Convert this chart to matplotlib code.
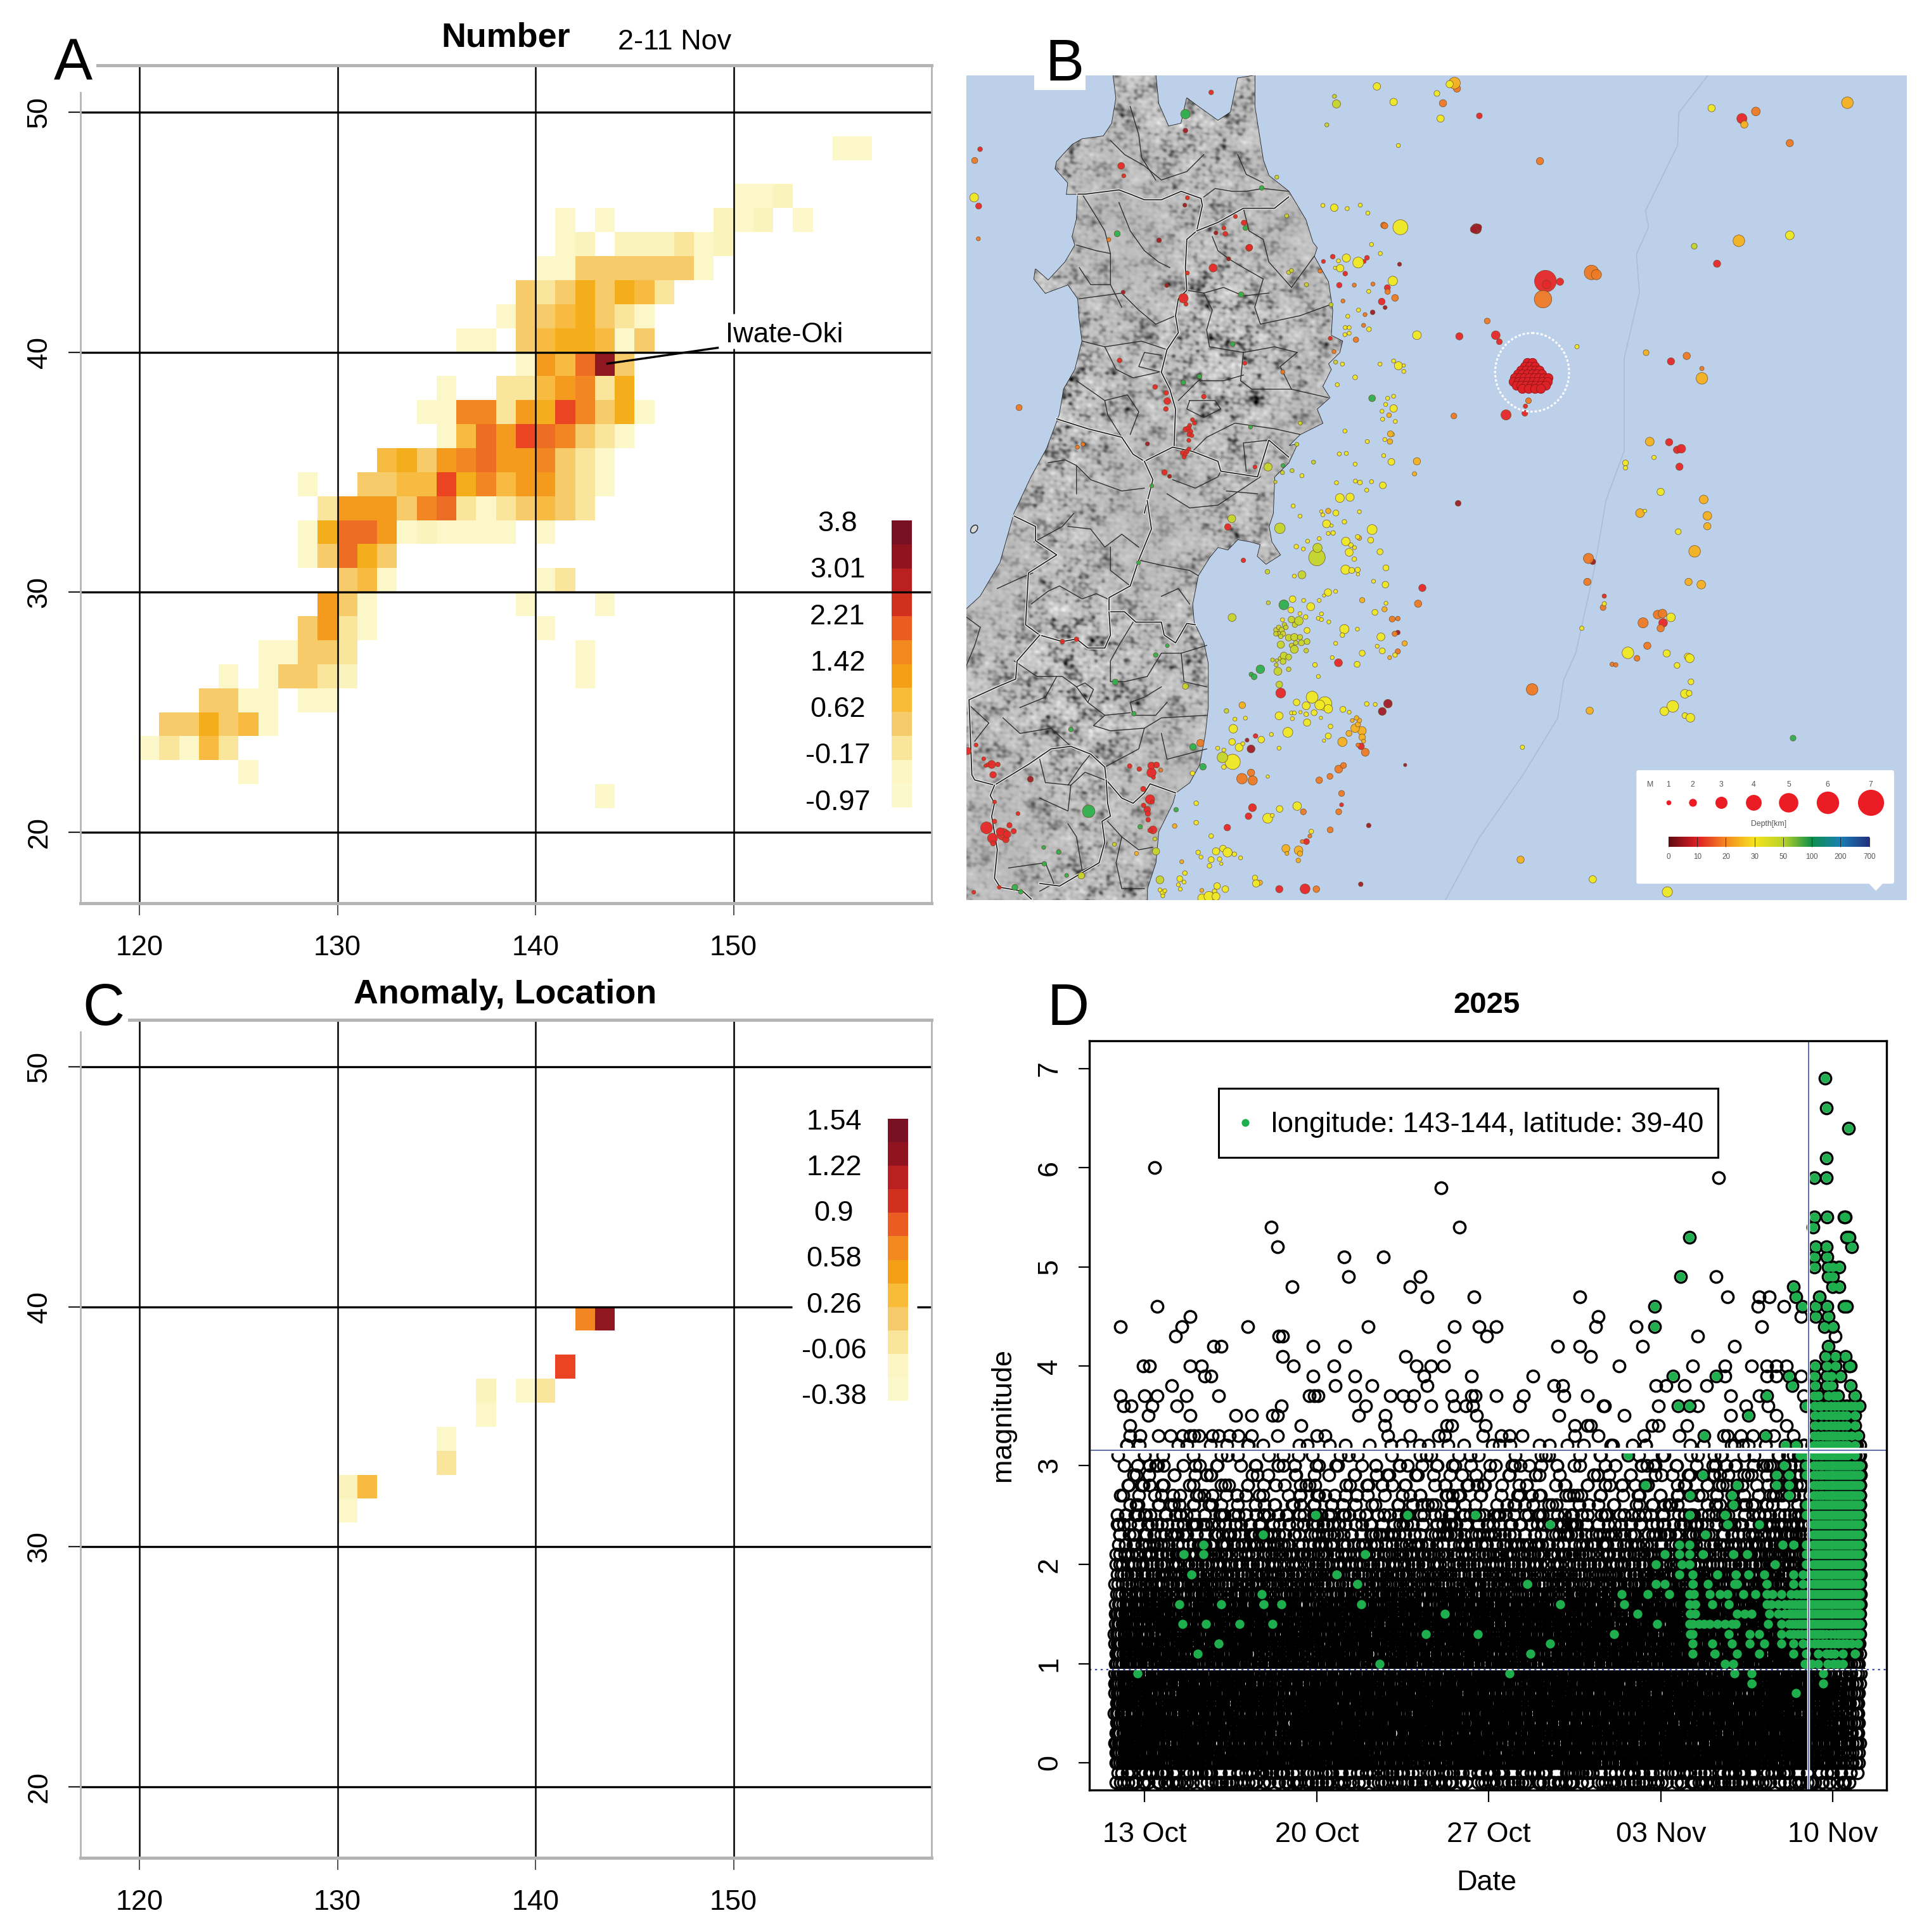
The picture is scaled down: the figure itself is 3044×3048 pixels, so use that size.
import numpy as np
import matplotlib
matplotlib.use('Agg')
import matplotlib.pyplot as plt
import matplotlib.patheffects as pe
from matplotlib.colors import ListedColormap, BoundaryNorm, LinearSegmentedColormap
from matplotlib.patches import Rectangle, Polygon, Ellipse, FancyBboxPatch

plt.rcParams['font.family'] = ['Liberation Sans', 'DejaVu Sans']

# --- panel A / C : grid cells, lat: (first lon, levels per 1 degree cell)
level_colors = ['#FBF7C8', '#FAF3BC', '#F9E59B', '#F7CB6A', '#F6BB40', '#F5AE1B',
                '#F49B1E', '#F18622', '#EE6D25', '#EA4423', '#8F1820']
number_rows = {
    48: (155, "11"), 46: (150, "112"), 45: (141, "1.1.....212.1"),
    44: (141, "12.222312"), 43: (140, "114444441"), 42: (139, "43464653"),
    41: (138, "14456431"), 40: (136, "11.4566514"), 39: (139, "1759b4"),
    38: (135, "1..3357836"), 37: (134, "1188376a8461"), 36: (135, "1597a98431"),
    35: (132, "564789778431"), 34: (128, "1..4455a68577431"),
    33: (129, "37774893134543"), 32: (128, "16997121111.1"), 31: (128, "14964"),
    30: (130, "451.......13"), 29: (129, "741.......1...1"),
    28: (128, "4731........1"), 27: (126, "11443...........1"),
    26: (124, "1.14432...........1"), 25: (123, "4411.11"), 24: (121, "446451"),
    23: (120, "13153"), 22: (125, "1"), 21: (143, "1"),
}
anomaly_rows = {
    39: (142, "8b"), 37: (141, "a"), 36: (137, "2.13"), 35: (137, "1"),
    34: (135, "1"), 33: (135, "3"), 32: (130, "25"), 31: (130, "1"),
}
bar_colors = ['#FBF8CC', '#FBF6C4', '#F9E59B', '#F7CB6A', '#F8BC38', '#F59F16',
              '#F28A20', '#EA5C22', '#D2301F', '#B9201F', '#8F141F', '#7A1024']
number_ticks = [3.8, 3.01, 2.21, 1.42, 0.62, -0.17, -0.97]
anomaly_ticks = [1.54, 1.22, 0.9, 0.58, 0.26, -0.06, -0.38]
lon_ticks = [120, 130, 140, 150]
lat_ticks = [20, 30, 40, 50]

# --- panel B : coast, read in the frame of the whole map
coast_north_w = [(530,20),(540,100),(525,190),(495,235),(420,245),(385,265),(330,325),(325,350),
    (370,400),(365,440),(405,440),(400,530),(385,590),(395,620),(360,680),(300,745),(255,705),
    (250,740),(290,790),(370,760),(405,810),(410,880),(420,960),(395,1060),(355,1130),(340,1220),
    (295,1340),(240,1440),(180,1568)]
coast_south_w = [(130,240),(60,370),(10,420),(10,1545)]
coast_south_e = [(650,1545),(650,1500),(680,1400),(690,1280),(740,1170),(750,1130),(800,1090),
    (835,1020),(855,900),(865,800),(865,630),(850,550),(815,470),(810,400),(830,290),(870,220),
    (900,180),(935,190),(970,150),(1020,160),(1050,170),(1040,215),(1070,245),(1120,210),(1090,160),
    (1080,100),(1095,50)]
coast_north_e = [(1100,1440),(1150,1390),(1180,1325),(1150,1330),(1190,1290),(1230,1270),(1270,1250),
    (1250,1200),(1295,1160),(1270,1120),(1300,1060),(1290,1040),(1330,1000),(1340,960),(1300,940),
    (1305,850),(1290,750),(1240,660),(1250,630),(1235,610),(1210,530),(1150,430),(1080,375),(1060,320),
    (1030,130),(1030,20),(970,30),(945,150),(900,180),(830,130),(790,100),(770,190),(725,200),(690,120),(680,20)]
trench = [(1228,22),(1180,90),(1178,150),(1125,270),(1130,300),(1110,350),(1115,420),(1090,540),(1090,710),
    (1060,800),(1040,930),(1010,1080),(990,1130),(980,1200),(925,1300),(850,1420),(795,1533)]

pref_north = [
    [(405,440),(430,440),(550,425),(590,440),(640,460),(700,460),(770,430),(840,455),(845,480),(825,570),
     (790,600),(785,700),(790,780),(760,810),(750,870),(760,930),(720,990),(700,1070),(730,1130),(750,1200),(745,1330)],
    [(825,570),(900,540),(990,490),(1100,490),(1150,450)],
    [(330,1235),(440,1270),(560,1300),(600,1360),(640,1385),(740,1335),(810,1350),(900,1385),(910,1420),(1040,1440),(1080,1310),(1150,1370)],
    [(640,1385),(670,1450),(640,1568)],
]
pref_south = [
    [(650,0),(665,110),(620,230),(590,330),(515,375),(515,430),(570,430),(610,470),(700,470),(710,520),(750,550),(790,475),(820,480)],
    [(180,60),(255,100),(255,155),(330,210),(230,280),(220,480),(270,520),(350,545),(400,535),(440,570),(500,570),(520,520),(515,430)],
    [(270,520),(190,620),(185,690),(120,720),(20,770),(30,1060),(40,1080),(110,1100),(230,1020),(310,960),(380,950),(450,980),(500,1030),(505,1080),(560,1150),(600,1170),(640,1130),(660,1095),(750,1130)],
    [(110,1100),(95,1140),(110,1170),(100,1220),(120,1350),(110,1460),(130,1495),(210,1510),(240,1540)],
    [(505,1080),(510,1170),(520,1220),(490,1240),(500,1320),(480,1400),(340,1490),(270,1480)],
]
town_north = [
    [(520,250),(570,300),(640,340),(700,390),(790,360),(850,300)],[(590,130),(620,230),(630,310),(680,390)],
    [(850,450),(890,420),(950,430),(1000,430),(1060,420),(1150,430)],[(970,300),(1000,370),(1060,400)],
    [(420,440),(470,520),(500,570),(520,650),(520,760),(560,840)],[(550,470),(590,570),(640,640),(690,680),(730,700)],
    [(400,620),(470,640),(520,650)],[(520,760),(450,760),(410,700)],[(410,810),(560,790),(620,850),(680,900),(750,870)],
    [(990,490),(1010,570),(1060,600),(1080,680),(1160,770),(1240,660)],[(880,590),(900,640),(940,670),(990,700),(1060,740)],
    [(1060,740),(1030,840),(1050,900),(1190,870),(1300,830)],[(790,780),(850,790),(920,770),(990,800),(1080,790)],
    [(850,790),(880,850),(860,920),(870,980),(990,1000),(1100,980),(1180,1000)],[(1180,1000),(1120,1050),(1160,1130),(1290,1160)],
    [(990,1000),(980,1100),(1020,1130),(1160,1130)],[(700,1070),(620,1050),(640,1000),(700,1010)],
    [(500,980),(540,1060),(600,1090),(690,1070)],[(420,960),(500,980),(630,960),(720,990)],[(500,1170),(580,1150),(620,1210),(590,1290)],
    [(400,1100),(500,1170),(510,1220),(560,1300)],[(760,1170),(830,1100),(920,1100),(990,1080)],
    [(800,1170),(890,1170),(910,1200),(850,1230),(790,1200),(800,1170)],[(880,1290),(960,1250),(1100,1270),(1190,1290)],
    [(1000,1420),(990,1320),(1080,1310)],[(810,1350),(860,1300),(880,1290)],[(400,1400),(450,1450),(560,1490),(640,1480)],
    [(300,1390),(360,1380),(400,1400),(400,1500)],[(740,1450),(820,1480),(900,1440),(910,1420)],
    [(720,1500),(800,1550),(900,1540),(1050,1440)],[(1040,1500),(930,1490)],
]
town_south = [
    [(10,450),(60,490),(40,560),(10,640)],[(120,340),(200,300),(245,280)],[(240,400),(300,350),(340,330),(420,380),(470,360),(510,380)],
    [(370,100),(450,110),(500,180),(560,130),(620,180)],[(250,160),(350,100),(390,50)],[(520,180),(520,270),(590,330)],
    [(620,230),(700,250),(800,270),(830,290)],[(700,370),(760,340),(800,400)],[(600,470),(550,560),(520,620),(520,700),(570,700),(650,680)],
    [(650,680),(700,590),(770,590),(860,560)],[(770,590),(780,700),(860,720)],[(700,720),(640,760),(590,780),(600,830),(680,830),(720,780)],
    [(330,680),(290,760),(200,800)],[(180,620),(260,680),(350,680),(400,720),(440,780),(460,730),(430,705),(400,720)],
    [(440,780),(500,830),(590,820)],[(500,830),(460,870),(520,890),(640,880),(700,840),(860,830)],[(640,880),(620,960),(500,1030)],
    [(700,900),(720,1000),(860,960)],[(270,1000),(290,1090),(380,1100),(370,1200),(270,1150)],[(370,1100),(420,1020),(450,980)],
    [(380,1100),(430,1050),(500,1080)],[(370,1250),(400,1300),(420,1430),(480,1400)],[(160,1420),(290,1400),(320,1480),(270,1510)],
    [(20,790),(90,860),(40,930)],[(140,840),(200,900),(310,880),(380,950)],[(510,1240),(560,1300),(620,1350),(670,1340)],
    [(560,1300),(540,1400),(560,1500),(640,1500)],
]

# quakes: (x, y, diameter) as read on the map
quake_colors = {'red': '#E8282A', 'dark': '#A01E2A', 'orange': '#EE7A25', 'amber': '#F6B21F',
                'yellow': '#F1EA22', 'lime': '#C5D62A', 'green': '#2FB04E'}
north_quakes = {
    'red': [(876,80,14),(59,281,14),(558,340,20),(567,375,12),(792,453,12),(54,482,18),(962,519,12),(992,541,16),(921,560,12),(926,580,14),
        (883,701,24),(792,719,12),(1010,630,20),(1012,628,18),(778,808,28),(787,829,12),(552,1028,14),(995,1038,12),(678,1122,14),(717,1143,14),
        (721,1172,20),(716,1200,14),(850,1156,14),(810,1238,12),(817,1250,12),(786,1272,16),(796,1268,16),(800,1258,12),(802,1280,16),(799,1290,14),
        (808,1294,12),(797,1311,12),(790,1350,14),(797,1342,12),(775,1355,14),(785,1360,12),(780,1370,12),(711,1424,16),(1031,1405,12),(1273,678,12),
        (1306,661,14),(1350,721,14),(1329,762,16),(1499,771,18),(1479,820,20),(1417,678,12),(1427,665,14),(1297,950,12)],
    'dark': [(785,215,14),(783,479,12),(692,603,14),(565,787,12),(719,763,12),(938,669,12),(893,577,12),(651,1323,12),(729,1438,12),(1491,841,12),(1542,688,12),(1447,858,14)],
    'orange': [(40,321,18),(53,598,12),(514,601,12),(1129,1069,12),(403,1335,12),(423,1325,12),(197,1195,18),(1486,550,18),(1490,552,18),(1261,712,12),
        (1382,762,12),(1342,818,12),(1420,866,12),(1415,904,12),(1388,955,16),(1310,997,12),(1500,785,16),(1526,807,20),(1448,758,12)],
    'yellow': [(1462,59,22),(1521,114,22),(1538,268,12),(1271,480,12),(1311,488,22),(1357,491,12),(1403,479,12),(1430,507,12),(1545,557,44),(1443,618,12),
        (1474,650,12),(1354,666,24),(1326,676,12),(1396,682,32),(1314,701,10),(1332,702,22),(1518,747,28),(1433,784,12),(1397,850,12),(1359,872,12),
        (1350,912,12),(1364,912,12),(1364,932,12),(1349,937,12),(1434,918,14),(1340,1041,12),(1473,1041,12),(1521,1030,12),(1538,1047,24),(1557,1046,10),
        (1557,1067,12),(1385,1088,14),(1322,1114,12),(1500,1162,12),(1521,1155,12),(1493,1184,12),(1521,1198,22),(1480,1208,12),(1482,1236,12),(1527,1244,12),
        (1349,1278,12),(1428,1315,12),(1329,1359,12),(1354,1357,12),(1486,1365,12),(1513,1387,20),(1385,1395,12),(1197,1436,12),(1319,1461,12),(1386,1455,12),
        (1402,1460,14),(1443,1457,12),(1483,1470,20),(1426,1487,12),(1331,1515,26),(1367,1512,24),(1166,1543,12),(1517,1290,12),(1490,1308,12),(38,452,26)],
    'amber': [(1510,1288,18),(1505,1222,14),(1508,1315,16)],
    'lime': [(1312,94,12),(1319,121,24),(1108,380,12),(1143,517,12),(1285,195,12),(1213,760,12),(1300,831,12),(1316,1034,12),(1191,1250,12),(1179,1325,12),
        (1162,1418,12),(1238,1388,12),(1077,1405,24),(1128,1425,12),(1103,1458,10),(1150,717,12),(1160,710,12)],
    'green': [(785,157,28),(1055,418,14),(997,560,14),(544,580,18),(982,795,16),(952,970,14),(835,1085,14),(778,1106,14),(1015,1264,12),(1445,1162,20),(1130,1400,12),(666,1472,12)],
}
south_quakes = {
    'red': [(990,231,14),(350,545,14),(400,536,14),(1122,744,30),(1033,910,14),(1022,1187,24),(1008,1220,20),(933,1264,20),(1213,1318,18),(1208,1501,30),
        (1117,1502,22),(1326,627,24),(1406,950,20),(1337,1176,12),(665,1052,28),(665,1025,22),(683,1022,18),(672,1070,12),(622,1038,14),(588,1026,14),
        (636,1115,16),(653,1234,14),(660,1155,28),(668,1165,12),(637,1178,14),(650,1195,20),(652,1210,16),(670,1273,24),(660,1275,14),(82,1265,36),
        (110,1240,14),(100,1020,24),(122,1020,14),(85,1022,12),(105,1060,20),(72,998,12),(78,1025,10),(163,1255,16),(178,1278,16),(193,1210,12),
        (140,1290,36),(130,1280,24),(150,1310,20),(103,1305,30),(105,1325,16),(155,1290,22),(45,945,12),(15,968,22),(110,1165,12),(127,1495,12),(37,1514,12),(935,102,20)],
    'dark': [(237,1077,18),(1003,926,12),(1017,960,24),(1501,785,26),(1481,815,24),(1405,1483,14),(1433,1256,14),(1536,510,14),(1562,1022,10)],
    'orange': [(838,937,22),(698,1042,12),(985,1075,32),(1017,1052,22),(1023,1082,28),(1258,1081,20),(1296,1066,18),(1327,1038,24),(1344,1024,18),(1337,1132,18),
        (1327,1203,18),(1297,1273,18),(1202,1203,18),(1225,1297,12),(1198,1318,12),(1248,1502,20),(1421,973,24),(1395,945,12),(1516,458,18),(1525,515,16),(1536,583,16),(1536,456,14)],
    'amber': [(612,1364,12),(747,1258,14),(772,1396,12),(1140,1345,24),(1185,1352,26),(1190,1365,16),(1184,1391,14),(1144,1364,12),(1048,1477,16),(1409,890,26),
        (1385,880,26),(1395,865,16),(1410,915,20),(1400,850,14),(1375,850,12),(1390,840,14),(1415,930,12),(1340,933,28),(1363,900,18),(1410,385,16),(1489,420,16),
        (1507,607,12),(1560,552,16),(1290,40,16),(1400,145,14),(986,791,20),(843,1507,12)],
    'yellow': [(1190,60,12),(1400,43,12),(1317,48,18),(1271,55,12),(1265,42,10),(1284,90,24),(1302,97,10),(1347,82,14),(1217,157,12),(1258,147,12),(1445,112,30),
        (1352,158,26),(1370,172,14),(1383,182,12),(1364,200,24),(1394,140,14),(1440,153,18),(1473,198,18),(1382,226,14),(1177,178,14),(1202,187,12),(1290,127,12),
        (1307,125,14),(1351,267,28),(1373,270,18),(1394,268,16),(1395,285,10),(1494,260,18),(1492,325,20),(1450,312,12),(1170,292,12),(1289,355,22),(1316,351,12),
        (1275,367,10),(1258,386,12),(1164,381,20),(1203,386,12),(1228,410,24),(1158,423,18),(1190,437,12),(1266,438,12),(1210,450,14),(1128,461,12),(1255,455,12),
        (1266,460,12),(1292,469,12),(1455,432,18),(1494,397,12),(1347,497,28),(1340,520,14),(1393,497,12),(1476,527,24),(1215,502,18),(1316,552,12),(1410,590,18),
        (1463,563,12),(1481,581,18),(1392,633,18),(1243,635,14),(1304,607,12),(1255,680,12),(1526,597,14),(1178,780,20),(1233,760,36),(1212,793,24),(1240,820,18),
        (1278,785,42),(1290,805,26),(1260,790,30),(1116,832,24),(1160,821,12),(1170,821,12),(1163,843,12),(1192,818,10),(1212,826,14),(1264,840,10),(1298,873,14),
        (1215,858,22),(1342,807,18),(1364,818,12),(1426,786,14),(1456,788,12),(954,882,26),(960,845,12),(997,841,12),(1147,896,30),(1089,904,12),(1053,924,20),
        (950,933,20),(975,954,24),(988,940,12),(1116,957,12),(899,957,12),(921,964,12),(1275,928,10),(1290,910,18),(952,1010,46),(921,1030,14),(810,1054,14),
        (823,1170,14),(1118,1192,20),(1180,1181,26),(1076,1228,30),(1092,1217,12),(823,1245,14),(876,1297,14),(830,1360,14),(893,1356,22),(918,1345,20),(934,1360,28),
        (958,1367,14),(840,1378,12),(876,1388,18),(906,1386,14),(980,1381,12),(870,1412,14),(912,1404,10),(1230,1279,14),(783,1440,14),(765,1462,18),(780,1475,12),
        (760,1485,12),(767,1502,12),(1031,1458,16),(1035,1480,22),(926,1502,20),(897,1490,20),(888,1510,14),(844,1537,26),(868,1530,30),(893,1530,24),(705,1515,16),
        (695,1505,12),(712,1508,12),(705,1528,12),(1076,1067,10)],
    'lime': [(1105,500,14),(1115,490,14),(1125,500,16),(1115,515,14),(1130,515,16),(1105,515,14),(1135,480,14),(1122,525,14),(1140,490,14),(1160,460,20),(1172,480,16),
        (1150,530,20),(1170,528,22),(1190,528,16),(1215,545,18),(1195,550,18),(1122,557,22),(1160,560,14),(1175,550,14),(1170,575,24),(1212,580,14),(1120,610,12),
        (1133,600,22),(1150,605,18),(1130,622,18),(1108,618,10),(1093,616,12),(1112,660,24),(1106,635,12),(1150,652,14),(1186,465,26),(1119,107,32),(1250,220,50),
        (1252,183,28),(1197,287,24),(950,452,24),(1075,275,14),(949,70,24),(916,993,32),(1078,395,12),(1117,711,20),(930,813,14),(681,1356,22),(677,1308,12),(785,718,18),
        (534,1329,12),(417,1450,20),(695,1466,24)],
    'green': [(619,240,12),(721,561,12),(680,597,14),(537,701,18),(603,824,14),(380,885,14),(1133,403,30),(1050,652,26),(1018,672,14),(1028,681,18),(812,952,20),
        (847,1029,20),(443,1201,38),(625,1261,14),(752,1195,14),(284,1341,12),(337,1359,14),(286,1404,14),(365,1449,12),(182,1495,18),(203,1512,14)],
}
east_quakes = {
    'red': [(1284,101,14),(960,399,30),(962,405,12),(984,400,10),(818,500,10),(878,498,12),(884,510,8),(1167,546,10),(895,644,14),(926,641,8),(927,628,6),
        (1164,694,10),(1177,708,10),(1184,706,12),(1057,976,6),(757,961,10),(1154,1025,12),(1243,367,10),(851,96,8),(1181,739,10)],
    'dark': [(846,303,14),(842,304,10),(850,300,8),(1038,913,8),(816,806,8)],
    'orange': [(1307,88,12),(1363,146,10),(951,179,10),(956,432,24),(1036,383,20),(1044,387,14),(864,472,8),(1193,536,10),(1218,559,6),(809,646,8),(932,618,8),(1031,907,14),
        (1029,950,10),(1055,997,8),(750,990,10),(1145,1010,12),(1153,1008,12),(1150,1035,10),(1121,1025,14),(1128,1067,10),(1111,1090,8),(1070,1101,6),(1076,1102,6),(938,1147,16),
        (791,73,10),(814,46,10)],
    'amber': [(810,36,16),(1288,112,10),(1458,72,16),(1279,325,16),(1126,530,8),(1218,577,16),(1132,693,12),(748,729,10),(744,752,6),(1221,799,12),(1116,824,12),(1227,829,12),
        (1227,848,10),(1206,894,16),(1196,950,10),(1217,955,12),(919,1459,10),(1033,1186,10)],
    'yellow': [(802,38,10),(781,55,8),(787,101,10),(1234,82,10),(1363,315,12),(748,498,12),(1012,519,6),(1139,722,6),(1092,732,8),(1092,741,6),(1150,785,10),(1124,820,5),
        (1179,858,8),(1057,990,6),(1167,1015,12),(1020,1035,6),(1096,1080,16),(1160,1081,10),(1177,1103,8),(1195,1087,10),(1198,1090,12),(1200,1133,8),(1190,1155,12),(1197,1154,8),
        (1170,1178,16),(1156,1187,12),(1190,1195,8),(1199,1199,12),(922,1253,6),(1038,1495,10),(1161,1518,14)],
    'lime': [(1205,334,8)],
    'green': [(1368,1236,8)],
}
main_cluster = [(930,548),(938,548),(926,555),(934,555),(942,555),(920,562),(928,562),(936,562),(944,562),(950,562),
    (914,569),(922,569),(930,569),(938,569),(946,569),(954,569),(909,576),(917,576),(925,576),(933,576),(941,576),(949,576),(957,576),(964,576),
    (907,583),(915,583),(923,583),(931,583),(939,583),(947,583),(955,583),(963,583),(912,590),(920,590),(928,590),(936,590),(944,590),(952,590),(960,590),
    (922,596),(932,596),(942,596),(952,596)]
legend_mag = ['1', '2', '3', '4', '5', '6', '7']
legend_mag_x = [1163, 1203, 1250, 1303, 1361, 1425, 1496]
legend_mag_d = [8, 13, 20, 26, 32, 37, 43]
depth_labels = ['0', '10', '20', '30', '50', '100', '200', '700']
depth_colors = ['#5E0A12', '#E01F25', '#F58A22', '#F6E41F', '#BBD32A', '#0E8F4C', '#1A7FB5', '#22307F']

# --- panel D
# x = day counted from 1 Oct (1 Nov = 32). Dense rows: events per bin of about a day, in base 36
dense_mag = [-0.2, -0.1, 0.0, 0.1, 0.2, 0.3, 0.4, 0.5, 0.6, 0.7, 0.8, 0.9, 1.0, 1.1, 1.2, 1.3, 1.4, 1.5, 1.6,
             1.7, 1.8, 1.9, 2.0, 2.1, 2.2, 2.3, 2.4, 2.5, 2.6, 2.7, 2.8, 2.9, 3.0, 3.1, 3.2]
dense_counts = [
    "6565765676 5676567565 67656765654", "5656567565 6756565657 56565656545",
    "bcbcbccbcb cbbcbcbcbc bbcbcbccbc8", "cbcbccbcbc bccbcbbcbc bcbcbccbcb8",
    "ccbcbcbcbc cbcbccbcbc bcbcbcbccb9", "bcccbcbccb cbcbcbcbcc bcbccbcbcb8",
    "cbcbcccbcb cbccbcbcbc cbcbcbcccb9", "bcbcbcbccc bcbcbccbcb cbccbcbcbc8",
    "cbccbcbcbc cbcbcbcbcc bcbcbccbcb9", "ccbcbccbcb cbccbcbcbc bcbcbcbccc9",
    "bcbcbcbcbc cbcbccbcbc cbcbccbcbc9", "cbcbccbcbc bcbcbcbcbc cbcbcbccbc8",
    "bbabbababb abbabbabab babbabbabc9", "abbabbabab babbababba bbabbabbcc9",
    "bababbabab bababbabab ababbabbcca", "abababbaba babababbab abbabbabcca",
    "bababababb abababbaba bababbabcca", "abababbaba babbababab abbababccca",
    "9a9aa9a9aa 9a9a9a9aa9 a9a9a9acccb", "8989898989 8989898989 898989899cc",
    "7878787877 8787878787 878788899cc", "7787878787 7878778787 878788889cc",
    "6767676676 7676767667 676767788cc", "6676767676 6767676767 676767787cc",
    "5656566565 6565656656 565656677cc", "5565656565 5656565565 656565667cc",
    "4545454454 5454545445 454545566cc", "4454545454 4545454545 454454556cc",
    "3233323323 3233323232 323333445cc", "2323232332 3232323323 232323344cb",
    "2322322322 2323232232 232323344cb", "2122221222 1222122212 222322334bb",
    "2322232322 3222323222 323233344cb", "1211211212 1121211211 212122233bb",
    "2112121121 1212112121 212112223a9",
]
black_days = {
    6.0: [13.4], 5.9: [36.35], 5.8: [25.05], 5.4: [18.15, 25.8], 5.2: [18.4], 5.1: [21.1, 22.7],
    4.9: [21.3, 24.2, 36.25], 4.8: [19, 23.8], 4.7: [24.5, 26.4, 30.7, 36.7, 38, 38.4],
    4.6: [13.5, 37.95, 39], 4.5: [14.85, 31.45, 39.7],
    4.4: [12, 14.5, 17.2, 22.1, 25.6, 26.6, 27.3, 31.35, 33, 38.1], 4.3: [14.25, 18.45, 18.6, 26.9, 35.5, 41.1],
    4.2: [15.8, 16.1, 19.85, 21.15, 25.15, 29.8, 30.7, 33.25, 37], 4.1: [18.6, 23.6, 31.15],
    4.0: [12.95, 13.2, 14.85, 15.3, 19.05, 20.7, 24.05, 24.65, 25.15, 32.3, 35.3, 36.6, 37.7, 38.3, 38.7, 39.1],
    3.9: [15.45, 15.7, 19.85, 21.55, 24.35, 26.3, 28.8, 36.6, 38.3, 38.7, 39.7],
    3.8: [14.1, 20.75, 22.25, 24.5, 29.65, 30, 33.8, 34.2, 34.95, 35.85],
    3.7: [12, 13, 13.5, 14.7, 16, 19.7, 19.9, 20.05, 21.55, 23, 23.5, 23.95, 25.5, 26.3, 26.45, 27.3, 28.4, 30.05, 31, 36.85, 38, 39.8],
    3.6: [12.15, 12.45, 13.3, 14.3, 18.55, 22, 23.8, 24.65, 25.6, 26.05, 26.35, 28.25, 31.65, 31.7, 33.9, 35.5, 37.45, 38.35],
    3.5: [13.15, 14.85, 16.7, 17.35, 18.2, 18.4, 21.7, 22.8, 26.5, 29.85, 32.5, 36.85, 38.7],
    3.4: [12.4, 19.35, 22.75, 25.3, 25.5, 26.85, 30.5, 31, 31.15, 33.65, 33.9, 35.05, 39.1],
    3.3: [12.4, 12.8, 13.55, 14.05, 14.55, 14.85, 15, 15.2, 15.75, 16, 16.45, 16.8, 17.35, 18.4, 20, 20.35, 22.9, 23.8, 24.95, 25.2,
          26.75, 27.5, 27.85, 28.35, 30.5, 31.45, 33.3, 34.75, 36.55, 36.7, 37.25, 37.75, 38.6, 39.4],
}
green_days = {
    6.9: [40.67], 6.6: [40.72], 6.4: [41.64], 6.1: [40.72], 5.9: [40.25, 40.73], 5.5: [40.25, 40.76, 41.45, 41.5], 5.4: [40.2],
    5.3: [35.15, 41.55, 41.65], 5.2: [40.3, 40.72, 41.75], 5.1: [40.25, 40.76], 5.0: [40.25, 40.8, 41, 41.25], 4.9: [34.8, 40.8, 41],
    4.8: [39.4, 41, 41.25], 4.7: [39.5, 40.45], 4.6: [33.75, 39.75, 40.3, 40.75, 41.45, 41.55], 4.5: [40.3, 40.8], 4.4: [33.75, 40.65, 41],
    4.2: [40.8], 4.1: [40.7, 41.1, 41.5], 4.0: [40.27, 40.75, 41.1, 41.65, 41.7], 3.9: [34.5, 36.25, 39.2, 40.25, 40.75, 40.95, 41.3],
    3.8: [39.35, 40.27, 40.75, 40.95, 41.7], 3.7: [38.3, 40.25, 40.4, 40.8, 41.05, 41.2, 41.9],
    3.6: [34.7, 35.15, 39.9, 40.25, 40.45], 3.5: [37.55], 3.3: [35.75, 38.25], 3.2: [39.05, 39.5], 3.1: [32.65, 39.65], 3.0: [39], 2.9: [35.7, 38.7, 39.2],
    2.8: [33.35, 37.1, 38.7, 39.2], 2.7: [35.2, 36.9, 39.2], 2.6: [36.95], 2.5: [19.95, 23.7, 26.45, 35.15, 36.6], 2.4: [29.5, 36.7, 38],
    2.3: [17.8, 35.8], 2.2: [15.4, 34.75, 35.15, 38.95, 39.4], 2.1: [14.6, 15.4, 21.95, 34.15, 34.75, 35.15, 35.7, 36.95, 37.5],
    2.0: [33.8, 34.85, 35.15, 38.65], 1.9: [14.9, 20.8, 34.75, 35.3, 36.3, 37.05, 37.55, 38.2],
    1.8: [21.65, 28.55, 33.8, 34.15, 35.3, 35.9, 37, 37.1, 38.3],
    1.7: [17.75, 32.4, 33.45, 34.35, 35.15, 35.35, 36, 36.4, 36.7, 37.35, 37.85, 38.3, 38.55],
    1.6: [14.4, 16.1, 17.85, 18.55, 21.8, 29.9, 32.5, 35.15, 35.4, 36.1, 36.75, 38.3, 38.5], 1.5: [25.2, 33.05, 35.2, 35.4, 37.1, 37.4, 37.7, 38.4],
    1.4: [14.55, 15.5, 16.85, 18.2, 33.85, 35.15, 35.3, 35.55, 35.75, 36, 36.3, 36.6, 36.9, 37.05, 38.35], 1.3: [24.45, 26.55, 32.1, 35.2, 35.3, 36.75, 37.6, 38],
    1.2: [16, 29.5, 35.3, 36.1, 36.9, 37.6, 38.2], 1.1: [15.15, 28.7, 35.3, 36.2, 37.1, 38], 1.0: [22.55, 36.6, 36.95, 39.85, 40.15, 41.2],
    0.9: [12.7, 27.85, 37, 37.7, 40.6], 0.8: [37.7, 40.6], 0.7: [39.5],
}
# main shock swarm: events per half day from 38.65
swarm_mag = [3.6, 3.5, 3.4, 3.3, 3.2, 3.1, 3.0, 2.9, 2.8, 2.7, 2.6, 2.5, 2.4, 2.3, 2.2, 2.1, 2.0, 1.9, 1.8, 1.7, 1.6, 1.5, 1.4, 1.3, 1.2, 1.1, 1.0]
swarm_counts = ["0002333", "0002331", "0002331", "0003532", "0004551", "0014551", "0014554", "0014555", "0004555", "0004555",
                "0015555", "0015555", "0005555", "0005555", "0015555", "0015555", "0015555", "0125555", "0125555", "1245555",
                "2455555", "2555555", "1455555", "1335355", "1123332", "0111311", "0011210"]
date_ticks = [13, 20, 27, 34, 41]
date_labels = ['13 Oct', '20 Oct', '27 Oct', '03 Nov', '10 Nov']
mag_ticks = [0, 1, 2, 3, 4, 5, 6, 7]
line_mag = 3.15
line_mc = 0.94
line_day = 40.0

W, H = 3044, 3048
FS = 16.2
fig = plt.figure(figsize=(W / 200, H / 200), dpi=200)


def box(l, t, r, b):
    return [l / W, 1 - b / H, (r - l) / W, (b - t) / H]


def ftext(x, y, s, **kw):
    kw.setdefault('ha', 'center')
    kw.setdefault('va', 'center')
    kw.setdefault('fontsize', FS)
    return fig.text(x / W, 1 - y / H, s, **kw)


def north(p):
    return (p[0] * 0.4665, 11.6 + p[1] * 0.518)


def south(p):
    return (p[0] * 0.4665, 801 + p[1] * 0.474)


def rows_to_grid(rows):
    grid = np.full((32, 38), np.nan)
    for lat, (lon0, cells) in rows.items():
        for i, c in enumerate(cells):
            if c != '.':
                grid[lat - 20, lon0 - 120 + i] = int(c, 16) - 1
    return grid


def grid_panel(rows, top, left_top_lat, top_from_lon, ticks, bar_box, bar_lim, label_pad):
    ymin, ymax = (17.04, 51.95)
    a = fig.add_axes(box(127, top, 1470, top + 1322))
    a.set_xlim(117.02, 160)
    a.set_ylim(ymin, ymax)
    cmap = ListedColormap(level_colors)
    norm = BoundaryNorm(np.arange(len(level_colors) + 1) - 0.5, len(level_colors))
    a.pcolormesh(np.arange(120, 159), np.arange(20, 53), rows_to_grid(rows), cmap=cmap, norm=norm, zorder=1)
    for k, sp in a.spines.items():
        sp.set_color('#B4B4B4')
        sp.set_linewidth(1.8 if k in ('top', 'bottom') else 1.0)
    a.spines['left'].set_bounds(ymin, left_top_lat)
    a.spines['top'].set_bounds(top_from_lon, 160)
    a.set_xticks(lon_ticks)
    a.set_yticks(lat_ticks)
    a.tick_params(axis='x', length=7, width=0.6, color='#333333', labelsize=FS, pad=11)
    a.tick_params(axis='y', length=7, width=0.8, color='#222222', labelsize=FS, pad=9)
    for t in a.get_yticklabels():
        t.set_rotation(90)
        t.set_va('center')
    # bar under the grid lines
    c = a.inset_axes(bar_box, transform=fig.transFigure, zorder=1.5)
    edges = np.linspace(bar_lim[0], bar_lim[1], 13)
    c.pcolormesh([0, 1], edges, np.arange(12).reshape(-1, 1), cmap=ListedColormap(bar_colors))
    c.set_ylim(bar_lim)
    c.set_xticks([])
    c.set_yticks(ticks)
    c.set_yticklabels([str(v) for v in ticks], ha='center', fontsize=FS)
    c.tick_params(axis='y', length=0, pad=label_pad)
    for sp in c.spines.values():
        sp.set_visible(False)
    c.patch.set_alpha(0)
    return a


# --- A
ax_a = grid_panel(number_rows, 103, 50.82, 117.9, number_ticks, box(1407, 821, 1439, 1274), (-1.10, 3.81), 30.6)
ax_a.vlines([120, 130, 140], 17.04, 51.95, color='black', lw=0.9, zorder=2)
ax_a.vlines(150, 17.04, 40.15, color='black', lw=0.9, zorder=2)
ax_a.vlines(150, 41.6, 51.95, color='black', lw=0.9, zorder=2)
ax_a.hlines(lat_ticks, 117.02, 160, color='black', lw=1.2, zorder=2)
ax_a.plot([143.63, 149.2], [39.52, 40.18], color='black', lw=1.2, zorder=3)
ax_a.text(152.56, 40.72, 'Iwate-Oki', ha='center', va='center', fontsize=FS - 0.4, zorder=3)
ftext(798, 59, 'Number', fontweight='bold', fontsize=19.4)
ftext(1065, 66, '2-11 Nov')
ftext(115, 103, 'A', fontsize=33)

# --- C
ax_c = grid_panel(anomaly_rows, 1609, 51.45, 119.5, anomaly_ticks, box(1401, 1765, 1433, 2210), (-0.429, 1.544), 30.6)
ax_c.vlines(lon_ticks, 17.04, 51.95, color='black', lw=0.9, zorder=2)
ax_c.hlines([20, 30, 50], 117.02, 160, color='black', lw=1.2, zorder=2)
ax_c.hlines(40, 117.02, 152.95, color='black', lw=1.2, zorder=2)
ax_c.hlines(40, 159.26, 160, color='black', lw=1.2, zorder=2)
ftext(797, 1569, 'Anomaly, Location', fontweight='bold', fontsize=19.4)
ftext(163, 1593, 'C', fontsize=33)

# --- B
ax_b = fig.add_axes(box(1525, 119, 3009, 1420))
ax_b.set_xlim(5, 1556)
ax_b.set_ylim(1533, 22)
ax_b.set_facecolor('#BDD0EA')
ax_b.set_xticks([])
ax_b.set_yticks([])
for sp in ax_b.spines.values():
    sp.set_visible(False)

land_xy = ([north(p) for p in coast_north_w] + [south(p) for p in coast_south_w] +
           [south(p) for p in coast_south_e] + [north(p) for p in coast_north_e])
land = Polygon(land_xy, closed=True, facecolor='#B6B6B6', edgecolor='#1E1E1E', lw=0.6, zorder=1)
ax_b.add_patch(land)

# hill shade look, only a texture, no data in it
yy, xx = np.mgrid[22:1533:1400j, 5:1556:1400j]
shade = np.zeros_like(xx)
for m in range(1, 41):
    ang = m * 2.399963
    f = 0.05 * 1.07 ** m
    shade += np.sin(f * (np.cos(ang) * xx + np.sin(ang) * yy) + m * 1.7)
shade = shade / shade.std()
rough = 0.5 + 0.5 * np.sin(0.0091 * xx - 0.0067 * yy + 1.2) * np.sin(0.0123 * xx + 0.0049 * yy)
value = 0.72 - (0.05 + 0.13 * rough) * np.clip(shade, 0, None) ** 1.2 + (0.02 + 0.05 * rough) * np.clip(-shade, 0, None)
img = ax_b.imshow(value, extent=(5, 1556, 1533, 22), cmap='gray', vmin=0, vmax=1,
                  aspect='auto', interpolation='bilinear', zorder=1.2)
img.set_clip_path(land)
ax_b.set_xlim(5, 1556)
ax_b.set_ylim(1533, 22)

for line in town_north:
    ax_b.plot(*zip(*[north(p) for p in line]), color='#2E2E2E', lw=0.5, zorder=2)
for line in town_south:
    ax_b.plot(*zip(*[south(p) for p in line]), color='#2E2E2E', lw=0.5, zorder=2)
halo = [pe.withStroke(linewidth=1.5, foreground='#EEEEEE')]
for line in pref_north:
    ax_b.plot(*zip(*[north(p) for p in line]), color='#1A1A1A', lw=0.6, zorder=2.2, path_effects=halo)
for line in pref_south:
    ax_b.plot(*zip(*[south(p) for p in line]), color='#1A1A1A', lw=0.6, zorder=2.2, path_effects=halo)
ax_b.plot(*zip(*trench), color='#A9BDDB', lw=0.6, zorder=1.1)
ax_b.add_patch(Ellipse(south((38, 110)), 10, 16, angle=30, fc='#D8D8D8', ec='#222222', lw=0.5, zorder=2))

px_pt = 72 / 200
dot_scale = 1.2
for group, conv, k in [(north_quakes, north, 1 / 2.24), (south_quakes, south, 1 / 2.3), (east_quakes, None, 1 / 1.045)]:
    for name, pts in group.items():
        xy = [conv(p[:2]) if conv else p[:2] for p in pts]
        d = np.array([p[2] for p in pts]) * k * px_pt * dot_scale
        ax_b.scatter(*zip(*xy), s=d ** 2, color=quake_colors[name], edgecolors='#6E4A1E', linewidths=0.25, alpha=0.95, zorder=3)
ax_b.scatter(*zip(*main_cluster), s=(15 / 1.045 * px_pt) ** 2, color='#DC2226', edgecolors='#8A1418', linewidths=0.3, zorder=3.2)
ax_b.add_patch(Ellipse((938, 566), 122, 144, fc='none', ec='white', lw=1.1, ls=(0, (1.2, 1.0)), zorder=3.5))

# map legend
ax_b.add_patch(FancyBboxPatch((1114, 1299), 417, 200, boxstyle='round,pad=4', fc='white', ec='none', zorder=5))
ax_b.add_patch(Polygon([(1493, 1502), (1517, 1502), (1505, 1516)], fc='white', ec='none', zorder=5))
ax_b.text(1133, 1322, 'M', fontsize=4.4, color='#555555', ha='center', va='center', zorder=6)
for s, x, d in zip(legend_mag, legend_mag_x, legend_mag_d):
    ax_b.text(x, 1322, s, fontsize=4.4, color='#555555', ha='center', va='center', zorder=6)
    ax_b.scatter([x], [1354], s=(d / 1.045 * px_pt) ** 2, color='#EC1C24', linewidths=0, zorder=6)
ax_b.text(1328, 1394, 'Depth[km]', fontsize=4.4, color='#555555', ha='center', va='center', zorder=6)
depth_x = np.linspace(1163, 1494, len(depth_labels))
depth_cmap = LinearSegmentedColormap.from_list('depth', depth_colors)
ax_b.imshow(np.linspace(0, 1, 256).reshape(1, -1), extent=(1163, 1494, 1436, 1418), cmap=depth_cmap, aspect='auto', zorder=6)
ax_b.set_xlim(5, 1556)
ax_b.set_ylim(1533, 22)
ax_b.vlines(depth_x, 1418, 1436, color='#222222', lw=0.3, zorder=6.5)
for x, s in zip(depth_x, depth_labels):
    ax_b.text(x, 1454, s, fontsize=4.2, color='#555555', ha='center', va='center', zorder=6)

fig.add_artist(Rectangle((1632 / W, 1 - 142 / H), 81 / W, 60 / H, transform=fig.transFigure, fc='white', ec='none', zorder=5))
ftext(1680, 103, 'B', fontsize=33, zorder=6)

# --- D
ax_d = fig.add_axes(box(1718.5, 1642, 2976.6, 2824))
ax_d.set_xlim(10.735, 43.17)
ax_d.set_ylim(-0.275, 7.28)
bx, by = [], []
for j, (m, row) in enumerate(zip(dense_mag, dense_counts)):
    for i, c in enumerate(row.replace(' ', '')):
        n = int(c, 36)
        # only the sparse rows get shifted much, the dense ones have to stay closed
        amp = 0.6 if n <= 5 else 0.2
        for k in range(n):
            # spread inside the bin, each row starts elsewhere so they do not line up
            f = ((k + 0.5) / n + 0.37 * j + amp / n * np.sin(1.3 * i + 2.1 * k + 0.7 * j)) % 1.0
            bx.append(11.75 + 0.98 * (i + f))
            by.append(m)
for m, days in black_days.items():
    bx += list(days)
    by += [m] * len(days)
gx, gy = [], []
for m, days in green_days.items():
    gx += list(days)
    gy += [m] * len(days)
for j, (m, row) in enumerate(zip(swarm_mag, swarm_counts)):
    for i, c in enumerate(row):
        n = int(c)
        for k in range(n):
            gx.append(38.65 + 0.5 * (i + (k + 0.5) / n))
            gy.append(m)
ax_d.plot(bx + gx, by + gy, ls='none', marker='o', ms=6.6, mfc='none', mec='black', mew=1.25, zorder=2)
ax_d.plot(gx, gy, ls='none', marker='o', ms=5.2, mfc='#1FAE4E', mec='none', zorder=3)
ax_d.axhline(line_mag, color='white', lw=3.2, zorder=4)
ax_d.axhline(line_mag, color='#5B6FB5', lw=0.7, zorder=5)
ax_d.axhline(line_mc, color='white', lw=0.8, zorder=4)
ax_d.axhline(line_mc, color='#3B4FA5', lw=0.8, ls=(0, (1.5, 2.5)), zorder=5)
ax_d.axvline(line_day, color='white', lw=1.6, zorder=4)
ax_d.axvline(line_day, color='#5B6FB5', lw=0.7, zorder=5)
ax_d.set_xticks(date_ticks)
ax_d.set_xticklabels(date_labels)
ax_d.set_yticks(mag_ticks)
ax_d.tick_params(axis='x', length=7, width=0.8, labelsize=FS, pad=11)
ax_d.tick_params(axis='y', length=6, width=0.8, labelsize=FS, pad=9)
for t in ax_d.get_yticklabels():
    t.set_rotation(90)
    t.set_va('center')
for sp in ax_d.spines.values():
    sp.set_linewidth(1.2)
    sp.set_zorder(6)
# legend box
leg = ax_d.transAxes
ax_d.add_patch(Rectangle((0.1625, 0.8445), 0.6265, 0.0923, transform=leg, fc='white', ec='black', lw=1.1, zorder=7))
ax_d.plot([0.1956], [0.8905], transform=leg, marker='o', ms=4.4, color='#1FAE4E', mec='none', zorder=8)
ax_d.text(0.2282, 0.8875, 'longitude: 143-144, latitude: 39-40', transform=leg, fontsize=FS, ha='left', va='center', zorder=8)
ftext(2346, 1586, '2025', fontweight='bold', fontsize=17)
ftext(1582, 2232, 'magnitude', rotation=90)
ftext(2346, 2970, 'Date')
ftext(1686, 1593, 'D', fontsize=33)

fig.savefig('out.png', dpi=200, facecolor='white')
